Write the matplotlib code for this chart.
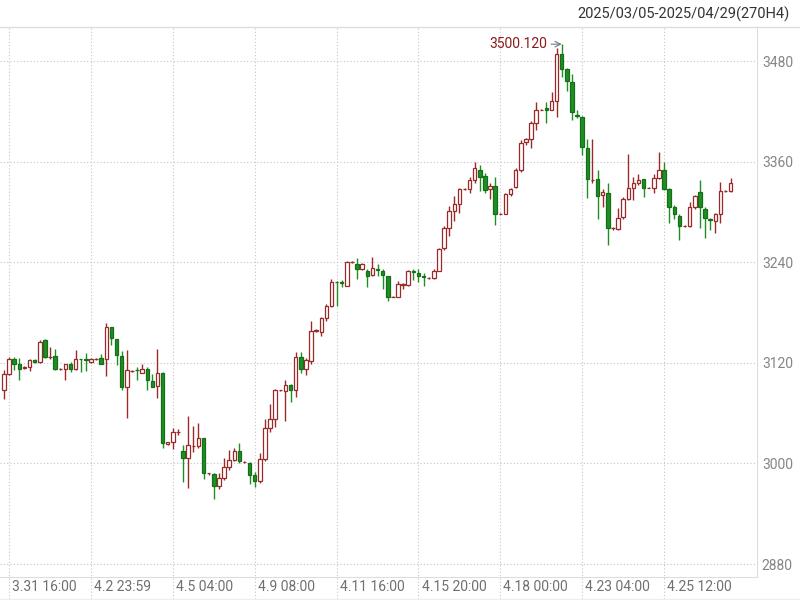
import numpy as np
import matplotlib.pyplot as plt
from matplotlib.transforms import blended_transform_factory

# 4H candles (open, high, low, close)
opens = [3088, 3107, 3125, 3118, 3114, 3115, 3123, 3121, 3147, 3127,
         3128, 3113, 3113, 3119, 3113, 3125, 3124, 3121, 3124, 3126,
         3124, 3163, 3148, 3128, 3091, 3110, 3112, 3108, 3113, 3098,
         3092, 3108, 3023, 3026, 3037, 3015, 3007, 3021, 3021, 3030,
         2988, 2987, 2973, 2983, 2996, 3004, 3015, 3002, 3001, 2986,
         2979, 3005, 3042, 3053, 3087, 3086, 3093, 3087, 3127, 3113,
         3122, 3158, 3157, 3174, 3188, 3217, 3216, 3212, 3240, 3238,
         3232, 3230, 3225, 3232, 3229, 3223, 3199, 3199, 3213, 3213,
         3229, 3227, 3223, 3221, 3221, 3230, 3257, 3281, 3301, 3309,
         3327, 3327, 3338, 3350, 3343, 3327, 3331, 3298, 3298, 3321,
         3330, 3350, 3383, 3387, 3406, 3422, 3424, 3421, 3432, 3488,
         3471, 3455, 3416, 3413, 3376, 3338, 3339, 3320, 3323, 3281,
         3280, 3294, 3316, 3328, 3334, 3339, 3329, 3329, 3340, 3350,
         3327, 3306, 3295, 3283, 3283, 3306, 3324, 3304, 3292, 3289,
         3297, 3325, 3325]
highs = [3111, 3127, 3127, 3126, 3116, 3124, 3124, 3147, 3149, 3139,
         3137, 3114, 3119, 3121, 3135, 3125, 3132, 3126, 3126, 3131,
         3167, 3163, 3149, 3134, 3135, 3111, 3115, 3119, 3115, 3107,
         3136, 3109, 3026, 3042, 3041, 3022, 3057, 3045, 3048, 3030,
         2989, 2988, 2988, 3006, 3016, 3018, 3024, 3003, 3002, 2990,
         3012, 3053, 3071, 3089, 3088, 3100, 3095, 3133, 3133, 3126,
         3170, 3160, 3175, 3190, 3220, 3218, 3219, 3242, 3241, 3245,
         3239, 3232, 3246, 3238, 3232, 3224, 3200, 3218, 3215, 3231,
         3232, 3232, 3227, 3222, 3232, 3257, 3283, 3307, 3319, 3329,
         3328, 3342, 3359, 3356, 3346, 3335, 3342, 3299, 3323, 3329,
         3352, 3386, 3388, 3408, 3431, 3423, 3431, 3443, 3495, 3500.12,
         3472, 3465, 3421, 3415, 3387, 3387, 3350, 3327, 3334, 3282,
         3305, 3318, 3369, 3342, 3345, 3339, 3330, 3345, 3371, 3360,
         3329, 3308, 3297, 3284, 3312, 3320, 3338, 3306, 3293, 3299,
         3336, 3326, 3340]
lows = [3077, 3105, 3111, 3099, 3113, 3110, 3120, 3120, 3126, 3125,
        3112, 3112, 3100, 3109, 3111, 3109, 3110, 3120, 3123, 3119,
        3104, 3141, 3117, 3087, 3054, 3109, 3100, 3108, 3088, 3091,
        3078, 3018, 3022, 3017, 3034, 2978, 2971, 3014, 3018, 2982,
        2986, 2958, 2970, 2980, 2992, 3003, 3000, 3001, 2976, 2972,
        2977, 3003, 3038, 3044, 3086, 3050, 3073, 3079, 3108, 3105,
        3119, 3157, 3152, 3170, 3186, 3188, 3210, 3212, 3239, 3220,
        3231, 3211, 3223, 3223, 3208, 3194, 3198, 3199, 3208, 3212,
        3219, 3216, 3212, 3220, 3220, 3229, 3255, 3271, 3289, 3299,
        3326, 3323, 3334, 3325, 3322, 3315, 3285, 3297, 3297, 3319,
        3328, 3348, 3380, 3376, 3398, 3421, 3406, 3421, 3413, 3461,
        3444, 3410, 3412, 3368, 3317, 3334, 3291, 3306, 3260, 3279,
        3278, 3292, 3314, 3314, 3332, 3318, 3328, 3323, 3339, 3326,
        3287, 3292, 3266, 3282, 3282, 3304, 3281, 3269, 3279, 3275,
        3287, 3324, 3324]
closes = [3107, 3124, 3119, 3113, 3115, 3123, 3121, 3145, 3127, 3127,
          3113, 3113, 3118, 3113, 3125, 3124, 3123, 3124, 3125, 3119,
          3163, 3150, 3129, 3091, 3111, 3110, 3111, 3113, 3099, 3091,
          3108, 3024, 3025, 3038, 3037, 3007, 3022, 3021, 3030, 2989,
          2988, 2973, 2983, 2996, 3004, 3015, 3003, 3002, 2986, 2979,
          3005, 3042, 3053, 3087, 3087, 3093, 3087, 3127, 3113, 3123,
          3158, 3159, 3173, 3188, 3217, 3216, 3215, 3240, 3240, 3232,
          3238, 3224, 3233, 3231, 3225, 3198, 3199, 3214, 3214, 3230,
          3228, 3223, 3222, 3221, 3230, 3256, 3281, 3301, 3309, 3327,
          3327, 3338, 3352, 3342, 3326, 3331, 3298, 3298, 3321, 3327,
          3350, 3382, 3387, 3406, 3422, 3422, 3422, 3432, 3488, 3471,
          3456, 3419, 3415, 3377, 3339, 3338, 3319, 3324, 3281, 3281,
          3293, 3316, 3328, 3334, 3338, 3329, 3329, 3340, 3350, 3327,
          3306, 3297, 3283, 3283, 3306, 3319, 3306, 3293, 3290, 3297,
          3325, 3325, 3334]

xlabels = ['3.31 16:00', '4.2 23:59', '4.5 04:00', '4.9 08:00', '4.11 16:00',
           '4.15 20:00', '4.18 00:00', '4.23 04:00', '4.25 12:00']
xlabel_idx = [1, 17, 33, 49, 65, 81, 97, 113, 129]
yticks = [2880, 3000, 3120, 3240, 3360, 3480]
peak_idx = 109
peak_val = 3500.12
header = '2025/03/05-2025/04/29(270H4)'

plt.rcParams['font.family'] = ['Roboto', 'DejaVu Sans']

red = '#9a2a2a'
green = '#1f8f24'
dkgreen = '#147018'
gridc = '#c4c4c4'

fig = plt.figure(figsize=(8, 6), dpi=100)
ax = fig.add_axes([0, 23/600, 757/800, 550/600])

o = np.array(opens, float)
h = np.array(highs, float)
l = np.array(lows, float)
c = np.array(closes, float)
x = np.arange(len(o))
up = c >= o

# wicks first, bodies on top (hollow up candles cover the wick)
ax.vlines(x[up], l[up], h[up], color=red, lw=1, zorder=2)
ax.vlines(x[~up], l[~up], h[~up], color=green, lw=1, zorder=2)
ax.bar(x[up], (c - o)[up], bottom=o[up], width=0.68, facecolor='white',
       edgecolor=red, lw=0.9, zorder=3)
ax.bar(x[~up], (c - o)[~up], bottom=o[~up], width=0.68, facecolor=green,
       edgecolor=dkgreen, lw=0.9, zorder=3)

ax.set_xlim(-0.78, 147.16)
ax.set_ylim(2864.5, 3520.6)

# grid
for yv in yticks:
    ax.axhline(yv, color=gridc, ls=(0, (1, 2)), lw=0.8, zorder=0)
for xi in xlabel_idx:
    ax.axvline(xi, ymin=-0.04, ymax=1, color=gridc, ls=(0, (1, 2)), lw=0.8,
               zorder=0, clip_on=False)

ax.set_xticks([])
ax.yaxis.tick_right()
ax.set_yticks(yticks)
ax.tick_params(axis='y', length=0, pad=3.5, labelcolor='#858585', labelsize=10)

trans = blended_transform_factory(ax.transData, ax.transAxes)
for xi, lab in zip(xlabel_idx, xlabels):
    ax.text(xi + 0.6, -0.018, lab, transform=trans, ha='left', va='center',
            fontsize=10, color='#707070')

for s in ['top', 'left']:
    ax.spines[s].set_visible(False)
ax.spines['right'].set_color('#dddddd')
ax.spines['bottom'].set_color('#dddddd')

# header separator and bottom border
fig.add_artist(plt.Line2D([0, 1], [1 - 27/600, 1 - 27/600], color='#dddddd', lw=1))
fig.add_artist(plt.Line2D([0, 1], [1/600, 1/600], color='#eeeeee', lw=1))

fig.text(790/800, 1 - 14/600, header, ha='right', va='center',
         fontsize=10.5, color='#333333')

ax.annotate('%.3f' % peak_val, xy=(peak_idx, peak_val),
            xytext=(peak_idx - 2.9, peak_val), ha='right', va='center',
            fontsize=10, color='#8b1a1a',
            arrowprops=dict(arrowstyle='->', color='#6a7b8c', lw=0.8,
                            shrinkA=1, shrinkB=0))

fig.savefig('out.png', dpi=100)
